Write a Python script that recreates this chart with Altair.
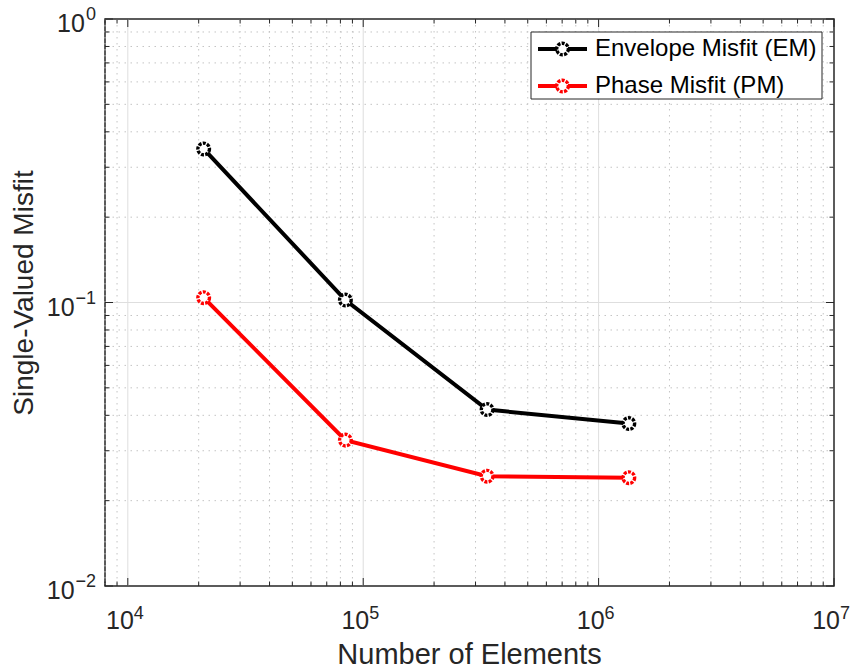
import altair as alt
import pandas as pd

# ---------------- data ----------------
elements = [21000, 84000, 336000, 1344000]
envelope_misfit = [0.348, 0.102, 0.0419, 0.0374]
phase_misfit = [0.104, 0.0327, 0.0244, 0.0241]
series_names = ["Envelope Misfit (EM)", "Phase Misfit (PM)"]
series_colors = ["#000000", "#ff0000"]

x_decades = [1e4, 1e5, 1e6, 1e7]
x_exponents = ["4", "5", "6", "7"]
y_decades = [1e-2, 1e-1, 1e0]
y_exponents = ["\u22122", "\u22121", "0"]
x_domain = [8e3, 1e7]
y_domain = [1e-2, 1e0]
x_title = "Number of Elements"
y_title = "Single-Valued Misfit"

# ---------------- style ----------------
W, H = 729, 567
FONT = "Liberation Sans"
AX = "#262626"

xs = alt.Scale(type="log", domain=x_domain, nice=False)
ys = alt.Scale(type="log", domain=y_domain, nice=False)

x_minor = [m * 10 ** e for e in range(3, 7) for m in range(2, 10)
           if x_domain[0] <= m * 10 ** e < x_domain[1]]
y_minor = [m * 10.0 ** e for e in range(-2, 0) for m in range(2, 10)]
x_major = [v for v in x_decades if x_domain[0] < v < x_domain[1]]
y_major = [v for v in y_decades if y_domain[0] < v < y_domain[1]]

df_xmin = pd.DataFrame({"v": x_minor})
df_ymin = pd.DataFrame({"v": y_minor})
df_xmaj = pd.DataFrame({"v": x_major})
df_ymaj = pd.DataFrame({"v": y_major})
df_xall = pd.DataFrame({"v": x_decades})
df_yall = pd.DataFrame({"v": y_decades})

records = []
for name, vals in zip(series_names, [envelope_misfit, phase_misfit]):
    for n, m in zip(elements, vals):
        records.append({"series": name, "n": n, "misfit": m})
df = pd.DataFrame(records)

X = lambda: alt.X("v:Q", scale=xs, axis=None)
Y = lambda: alt.Y("v:Q", scale=ys, axis=None)

layers = []

# minor grid (dotted)
layers.append(alt.Chart(df_xmin).mark_rule(color="#c4c4c4", strokeWidth=1, strokeDash=[1.5, 4.5]).encode(x=X()))
layers.append(alt.Chart(df_ymin).mark_rule(color="#c4c4c4", strokeWidth=1, strokeDash=[1.5, 4.5]).encode(y=Y()))
# major grid (solid light)
layers.append(alt.Chart(df_xmaj).mark_rule(color="#dedede", strokeWidth=1).encode(x=X()))
layers.append(alt.Chart(df_ymaj).mark_rule(color="#dedede", strokeWidth=1).encode(y=Y()))

# inward ticks on all four sides
for dfx, ln in [(df_xmin, 4.5), (df_xall, 8)]:
    layers.append(alt.Chart(dfx).mark_rule(color=AX, strokeWidth=1).encode(
        x=X(), y=alt.value(H), y2=alt.value(H - ln)))
    layers.append(alt.Chart(dfx).mark_rule(color=AX, strokeWidth=1).encode(
        x=X(), y=alt.value(0), y2=alt.value(ln)))
for dfy, ln in [(df_ymin, 4.5), (df_yall, 8)]:
    layers.append(alt.Chart(dfy).mark_rule(color=AX, strokeWidth=1).encode(
        y=Y(), x=alt.value(0), x2=alt.value(ln)))
    layers.append(alt.Chart(dfy).mark_rule(color=AX, strokeWidth=1).encode(
        y=Y(), x=alt.value(W), x2=alt.value(W - ln)))

color_scale = alt.Scale(domain=series_names, range=series_colors)

lines = alt.Chart(df).mark_line(strokeWidth=4).encode(
    x=alt.X("n:Q", scale=xs, axis=None),
    y=alt.Y("misfit:Q", scale=ys, axis=None),
    stroke=alt.Stroke("series:N", scale=color_scale, legend=None),
    detail="series:N",
)
points = alt.Chart(df).mark_point(shape="circle", size=135, fill="white", fillOpacity=1,
                                  strokeWidth=3.4, strokeDash=[3, 1.3], opacity=1).encode(
    x=alt.X("n:Q", scale=xs, axis=None),
    y=alt.Y("misfit:Q", scale=ys, axis=None),
    stroke=alt.Stroke("series:N", scale=color_scale, legend=None),
)
layers += [lines, points]

# x tick labels: 10 with superscript exponent
df_xl = pd.DataFrame({"v": x_decades, "e": x_exponents})
layers.append(alt.Chart(df_xl).mark_text(text="10", align="right", baseline="alphabetic", dx=6,
                                         fontSize=25, font=FONT, color=AX).encode(
    x=X(), y=alt.value(H + 43)))
layers.append(alt.Chart(df_xl).mark_text(align="left", baseline="alphabetic", dx=6,
                                         fontSize=18, font=FONT, color=AX).encode(
    x=X(), y=alt.value(H + 33), text="e:N"))

# y tick labels
for v, e in zip(y_decades, y_exponents):
    d = pd.DataFrame({"v": [v], "e": [e]})
    expw = 10.2 * len(e) + 1
    layers.append(alt.Chart(d).mark_text(align="right", baseline="alphabetic", dy=13,
                                         fontSize=25, font=FONT, color=AX).encode(
        y=Y(), x=alt.value(-9 - expw), text=alt.value("10")))
    layers.append(alt.Chart(d).mark_text(align="right", baseline="alphabetic", dy=1,
                                         fontSize=18, font=FONT, color=AX).encode(
        y=Y(), x=alt.value(-9), text="e:N"))

# axis titles
one = pd.DataFrame({"k": [0]})
layers.append(alt.Chart(one).mark_text(text=x_title, align="center", baseline="alphabetic",
                                       fontSize=29, font=FONT, color=AX).encode(
    x=alt.value(W / 2), y=alt.value(H + 78)))
layers.append(alt.Chart(one).mark_text(text=y_title, align="center", baseline="alphabetic",
                                       angle=270, fontSize=28, font=FONT, color=AX).encode(
    x=alt.value(-72), y=alt.value(274)))

# legend (MATLAB style box)
layers.append(alt.Chart(one).mark_rect(fill="white", stroke=AX, strokeWidth=1).encode(
    x=alt.value(426), x2=alt.value(717), y=alt.value(13), y2=alt.value(80)))
for i, (name, col) in enumerate(zip(series_names, series_colors)):
    ry = 30 + 37 * i
    d = pd.DataFrame({"series": [name]})
    layers.append(alt.Chart(d).mark_rule(color=col, strokeWidth=4).encode(
        x=alt.value(433), x2=alt.value(482), y=alt.value(ry)))
    layers.append(alt.Chart(d).mark_point(shape="circle", size=135, fill="white", fillOpacity=1,
                                          stroke=col, strokeWidth=3.4, strokeDash=[3, 1.3],
                                          opacity=1).encode(
        x=alt.value(457.5), y=alt.value(ry)))
    layers.append(alt.Chart(d).mark_text(align="left", baseline="middle", fontSize=24,
                                         font=FONT, color="#000000").encode(
        x=alt.value(490), y=alt.value(ry), text="series:N"))

chart = alt.layer(*layers).properties(
    width=W, height=H,
    padding={"left": 105, "top": 19, "right": 20, "bottom": 85},
    autosize=alt.AutoSizeParams(type="none"),
    background="white",
).configure_view(stroke=AX, strokeWidth=1.5)

chart.save("out.html", embed_options={"renderer": "svg", "actions": False})
